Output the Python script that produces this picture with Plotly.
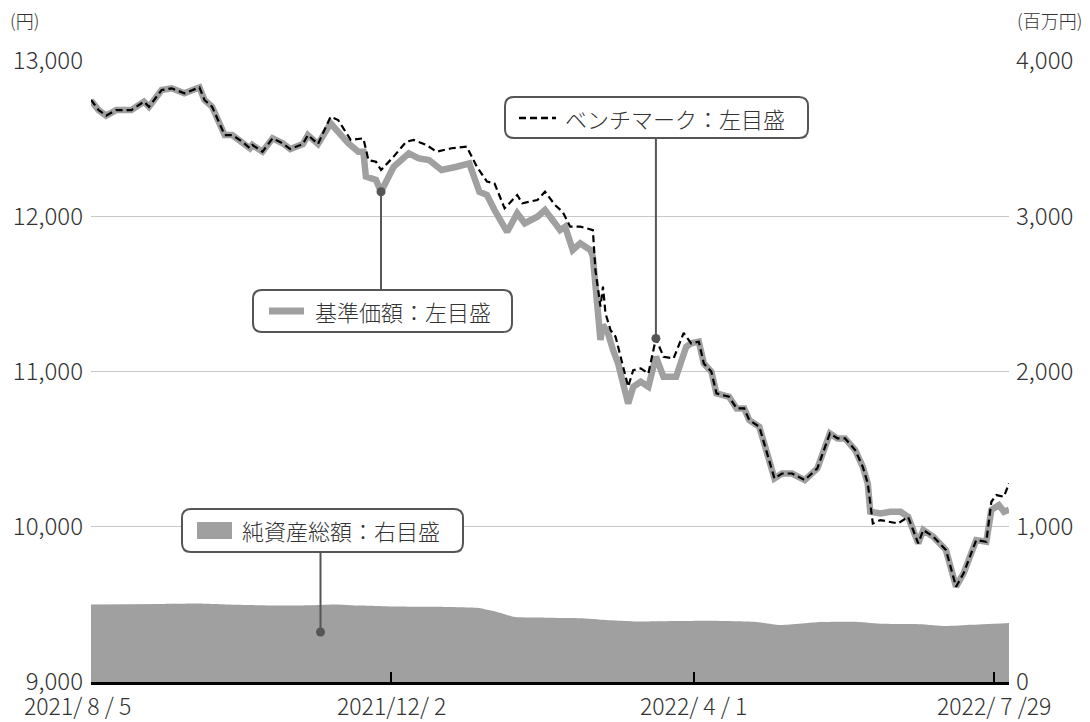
import plotly.graph_objects as go

# ---------------- data ----------------
nav_dates = [
    "2021-08-05", "2021-08-08", "2021-08-11", "2021-08-15", "2021-08-21", "2021-08-26", "2021-08-28",
    "2021-09-02", "2021-09-06", "2021-09-11", "2021-09-17", "2021-09-19", "2021-09-22", "2021-09-27",
    "2021-09-30", "2021-10-04", "2021-10-07", "2021-10-08", "2021-10-12", "2021-10-16", "2021-10-20",
    "2021-10-23", "2021-10-28", "2021-10-30", "2021-11-03", "2021-11-08", "2021-11-11", "2021-11-15",
    "2021-11-19", "2021-11-21", "2021-11-22", "2021-11-26", "2021-11-28", "2021-12-03", "2021-12-09",
    "2021-12-13", "2021-12-17", "2021-12-22", "2021-12-28", "2022-01-02", "2022-01-06", "2022-01-09",
    "2022-01-12", "2022-01-17", "2022-01-21", "2022-01-24", "2022-01-29", "2022-02-01", "2022-02-05",
    "2022-02-07", "2022-02-09", "2022-02-12", "2022-02-15", "2022-02-19", "2022-02-20", "2022-02-22",
    "2022-02-23", "2022-02-24", "2022-02-26", "2022-02-28", "2022-03-02", "2022-03-06", "2022-03-08",
    "2022-03-11", "2022-03-14", "2022-03-17", "2022-03-20", "2022-03-25", "2022-03-29", "2022-03-31",
    "2022-04-03", "2022-04-05", "2022-04-08", "2022-04-10", "2022-04-15", "2022-04-18", "2022-04-21",
    "2022-04-23", "2022-04-27", "2022-05-03", "2022-05-06", "2022-05-10", "2022-05-15", "2022-05-20",
    "2022-05-25", "2022-05-28", "2022-05-31", "2022-06-04", "2022-06-07", "2022-06-09", "2022-06-10",
    "2022-06-14", "2022-06-18", "2022-06-22", "2022-06-25", "2022-06-29", "2022-07-01", "2022-07-05",
    "2022-07-10", "2022-07-14", "2022-07-17", "2022-07-22", "2022-07-26", "2022-07-28", "2022-07-31",
    "2022-08-02", "2022-08-04",
]
nav_values = [
    12745, 12684, 12648, 12684, 12684, 12738, 12705,
    12813, 12824, 12792, 12830, 12749, 12706, 12523,
    12523, 12480, 12438, 12459, 12416, 12502, 12470,
    12433, 12465, 12523, 12465, 12599, 12545, 12470,
    12416, 12416, 12255, 12234, 12158, 12319, 12405,
    12373, 12362, 12298, 12319, 12341, 12158, 12137,
    12040, 11900, 12019, 11955, 11997, 12040, 11955,
    11911, 11933, 11783, 11826, 11783, 11740, 11332,
    11203, 11300, 11246, 11138, 11052, 10794, 10902,
    10934, 10902, 11095, 10966, 10966, 11159, 11181,
    11192, 11052, 10998, 10859, 10837, 10762, 10762,
    10687, 10644, 10311, 10343, 10343, 10301, 10376,
    10601, 10569, 10569, 10494, 10387, 10279, 10097,
    10086, 10097, 10097, 10064, 9893, 9979, 9936,
    9850, 9614, 9700, 9914, 9903, 10108, 10140,
    10097, 10110,
]

bm_dates = [
    "2021-08-05", "2021-08-08", "2021-08-11", "2021-08-15", "2021-08-21", "2021-08-26", "2021-08-28",
    "2021-09-02", "2021-09-06", "2021-09-11", "2021-09-17", "2021-09-19", "2021-09-22", "2021-09-27",
    "2021-09-30", "2021-10-04", "2021-10-07", "2021-10-08", "2021-10-12", "2021-10-16", "2021-10-20",
    "2021-10-23", "2021-10-28", "2021-10-30", "2021-11-03", "2021-11-08", "2021-11-11", "2021-11-16",
    "2021-11-21", "2021-11-23", "2021-11-26", "2021-11-28", "2021-12-03", "2021-12-08", "2021-12-11",
    "2021-12-16", "2021-12-20", "2021-12-26", "2022-01-01", "2022-01-05", "2022-01-09", "2022-01-12",
    "2022-01-16", "2022-01-21", "2022-01-23", "2022-01-29", "2022-02-01", "2022-02-05", "2022-02-08",
    "2022-02-11", "2022-02-15", "2022-02-20", "2022-02-21", "2022-02-23", "2022-02-24", "2022-02-25",
    "2022-02-27", "2022-03-01", "2022-03-06", "2022-03-08", "2022-03-11", "2022-03-14", "2022-03-17",
    "2022-03-20", "2022-03-24", "2022-03-28", "2022-03-31", "2022-04-03", "2022-04-05", "2022-04-08",
    "2022-04-10", "2022-04-15", "2022-04-18", "2022-04-21", "2022-04-23", "2022-04-27", "2022-05-03",
    "2022-05-06", "2022-05-10", "2022-05-15", "2022-05-20", "2022-05-25", "2022-05-28", "2022-05-31",
    "2022-06-04", "2022-06-07", "2022-06-09", "2022-06-11", "2022-06-14", "2022-06-18", "2022-06-21",
    "2022-06-25", "2022-06-29", "2022-07-01", "2022-07-05", "2022-07-10", "2022-07-14", "2022-07-17",
    "2022-07-22", "2022-07-26", "2022-07-28", "2022-07-30", "2022-08-02", "2022-08-04",
]
bm_values = [
    12750, 12684, 12648, 12684, 12684, 12738, 12705,
    12813, 12824, 12792, 12830, 12749, 12706, 12523,
    12523, 12480, 12438, 12459, 12416, 12502, 12470,
    12433, 12465, 12523, 12465, 12641, 12620, 12491,
    12502, 12362, 12351, 12298, 12384, 12480, 12491,
    12459, 12416, 12438, 12448, 12319, 12223, 12212,
    12051, 12137, 12083, 12105, 12158, 12072, 12029,
    11933, 11933, 11911, 11654, 11418, 11547, 11375,
    11267, 11224, 10902, 11009, 11020, 10987, 11213,
    11095, 11084, 11248, 11181, 11192, 11052, 10998,
    10859, 10837, 10762, 10762, 10687, 10644, 10311,
    10343, 10343, 10301, 10376, 10601, 10569, 10569,
    10494, 10387, 10279, 10021, 10043, 10032, 10021,
    10064, 9893, 9979, 9936, 9850, 9614, 9700,
    9914, 9903, 10161, 10204, 10193, 10280,
]

net_dates = [
    "2021-08-05", "2021-09-01", "2021-09-17", "2021-10-01", "2021-10-20", "2021-11-01", "2021-11-10",
    "2021-11-20", "2021-12-01", "2021-12-20", "2022-01-05", "2022-01-12", "2022-01-20", "2022-02-01",
    "2022-02-15", "2022-02-25", "2022-03-10", "2022-03-25", "2022-04-08", "2022-04-25", "2022-05-05",
    "2022-05-20", "2022-06-05", "2022-06-15", "2022-06-30", "2022-07-10", "2022-07-20", "2022-08-04",
]
net_values = [
    500, 502, 505, 497, 493, 495, 500,
    492, 487, 485, 478, 455, 418, 414,
    411, 400, 390, 393, 395, 388, 367,
    385, 387, 375, 372, 360, 368, 380,
]

tick_dates = ["2021-08-05", "2021-12-02", "2022-04-01", "2022-07-29"]
tick_labels = ["2021/ 8 / 5", "2021/12/ 2", "2022/ 4 / 1", "2022/ 7 /29"]

left_ticks = [9000, 10000, 11000, 12000, 13000]
right_ticks = [0, 1000, 2000, 3000, 4000]

# callouts: marker dots
nav_marker_date = "2021-11-28"
bm_marker_date = "2022-03-17"
net_marker_date = "2021-11-04"
net_marker_value = 322

# ---------------- style ----------------
GRAY = "#a0a0a0"
DARK = "#555555"
TXT = "#333333"
FONT = "Noto Sans CJK JP"
WEIGHT = 300

fig = go.Figure()

fig.add_trace(go.Scatter(
    x=net_dates, y=net_values, yaxis="y2", mode="lines",
    line=dict(width=0, color=GRAY, shape="spline", smoothing=0.4),
    fill="tozeroy", fillcolor=GRAY, hoverinfo="skip", showlegend=False,
))
fig.add_trace(go.Scatter(
    x=nav_dates, y=nav_values, mode="lines",
    line=dict(width=6.5, color=GRAY), showlegend=False,
))
fig.add_trace(go.Scatter(
    x=bm_dates, y=bm_values, mode="lines",
    line=dict(width=2.2, color="black", dash="7px,4px"), showlegend=False,
))

nav_mv = nav_values[nav_dates.index(nav_marker_date)]
bm_mv = bm_values[bm_dates.index(bm_marker_date)]

fig.add_trace(go.Scatter(
    x=[nav_marker_date, bm_marker_date], y=[nav_mv, bm_mv], mode="markers",
    marker=dict(size=9, color=DARK), showlegend=False,
))
fig.add_trace(go.Scatter(
    x=[net_marker_date], y=[net_marker_value], yaxis="y2", mode="markers",
    marker=dict(size=9, color=DARK), showlegend=False,
))

# page geometry (the page body adds an 8px offset around the figure)
OFF = 8
PAGE_W, PAGE_H = 1090, 722
PL, PR, PT, PB = 91, 1009, 61, 682          # plot area edges in page pixels
W, H = PAGE_W - OFF, PAGE_H - OFF
L, T = PL - OFF, PT - OFF
R, B = W - (PR - OFF), H - (PB - OFF)
PW, PH = PR - PL, PB - PT


def px(x):
    return (x - PL) / PW


def py(y):
    return (PB - y) / PH


def rrect(x0, y0, x1, y1, r=9):
    X0, X1 = px(x0), px(x1)
    Y0, Y1 = py(y1), py(y0)  # bottom, top in paper
    rx, ry = r / PW, r / PH
    return (f"M {X0+rx},{Y1} L {X1-rx},{Y1} Q {X1},{Y1} {X1},{Y1-ry} "
            f"L {X1},{Y0+ry} Q {X1},{Y0} {X1-rx},{Y0} L {X0+rx},{Y0} "
            f"Q {X0},{Y0} {X0},{Y0+ry} L {X0},{Y1-ry} Q {X0},{Y1} {X0+rx},{Y1} Z")


def yval(ypix):
    return 9000 + py(ypix) * 4000


def y2val(ypix):
    return py(ypix) * 4000


def tfont(size):
    return dict(size=size, color=TXT, family=FONT, weight=WEIGHT)


shapes = []
# leader lines
shapes.append(dict(type="line", xref="x", yref="y", x0=nav_marker_date, x1=nav_marker_date,
                   y0=nav_mv, y1=yval(290), line=dict(color=DARK, width=2)))
shapes.append(dict(type="line", xref="x", yref="y", x0=bm_marker_date, x1=bm_marker_date,
                   y0=bm_mv, y1=yval(138), line=dict(color=DARK, width=2)))
shapes.append(dict(type="line", xref="x", yref="y2", x0=net_marker_date, x1=net_marker_date,
                   y0=net_marker_value, y1=y2val(552), line=dict(color=DARK, width=2)))
# boxes
for (x0, y0, x1, y1) in [(253, 290, 512, 332), (505, 97, 808, 138), (182, 509, 463, 552)]:
    shapes.append(dict(type="path", xref="paper", yref="paper", path=rrect(x0, y0, x1, y1),
                       line=dict(color=DARK, width=2), fillcolor="white"))
# legend samples
shapes.append(dict(type="line", xref="paper", yref="paper", x0=px(269), x1=px(304), y0=py(311), y1=py(311),
                   line=dict(color=GRAY, width=7)))
shapes.append(dict(type="line", xref="paper", yref="paper", x0=px(519), x1=px(556), y0=py(118), y1=py(118),
                   line=dict(color="black", width=2.5, dash="7px,4px")))
shapes.append(dict(type="rect", xref="paper", yref="paper", x0=px(197), x1=px(232), y0=py(539), y1=py(522),
                   line=dict(width=0), fillcolor=GRAY))

annotations = [
    dict(text="基準価額：左目盛", x=px(313), y=py(311), xref="paper", yref="paper",
         xanchor="left", yanchor="middle", showarrow=False, font=tfont(22)),
    dict(text="ベンチマーク：左目盛", x=px(563), y=py(118), xref="paper", yref="paper",
         xanchor="left", yanchor="middle", showarrow=False, font=tfont(22)),
    dict(text="純資産総額：右目盛", x=px(240), y=py(530), xref="paper", yref="paper",
         xanchor="left", yanchor="middle", showarrow=False, font=tfont(22)),
    dict(text="(円)", x=px(8), y=py(20), xref="paper", yref="paper",
         xanchor="left", yanchor="middle", showarrow=False, font=tfont(18)),
    dict(text="(百万円)", x=px(1084), y=py(20), xref="paper", yref="paper",
         xanchor="right", yanchor="middle", showarrow=False, font=tfont(18)),
]
# x tick labels (the first one sits a little left of its tick, as in the original)
for i, (d, lab) in enumerate(zip(tick_dates, tick_labels)):
    annotations.append(dict(text=lab, x=d, y=py(705), xref="x", yref="paper",
                            xanchor="center", yanchor="middle", showarrow=False,
                            xshift=-14 if i == 0 else 0, font=tfont(23)))

fig.update_layout(
    width=W, height=H,
    margin=dict(l=L, r=R, t=T, b=B, autoexpand=False),
    paper_bgcolor="white", plot_bgcolor="white",
    font=dict(family=FONT, size=22, color=TXT, weight=WEIGHT),
    showlegend=False,
    xaxis=dict(
        type="date", range=["2021-08-05", "2022-08-04"],
        tickvals=tick_dates, showticklabels=False,
        ticks="inside", ticklen=10, tickwidth=2, tickcolor="black",
        showline=True, linewidth=2.5, linecolor="black",
        showgrid=False, zeroline=False, automargin=False,
    ),
    yaxis=dict(
        range=[9000, 13000], tickvals=left_ticks, tickformat=",d",
        showgrid=True, gridcolor="#c8c8c8", gridwidth=1,
        zeroline=False, showline=False, ticks="", ticklabelstandoff=7,
        tickfont=tfont(24), automargin=False,
    ),
    yaxis2=dict(
        range=[0, 4000], tickvals=right_ticks, tickformat=",d",
        overlaying="y", side="right", showgrid=False, zeroline=False,
        showline=False, ticks="", ticklabelstandoff=6,
        tickfont=tfont(24), automargin=False,
    ),
    shapes=shapes,
    annotations=annotations,
)

fig.write_html("out.html")
